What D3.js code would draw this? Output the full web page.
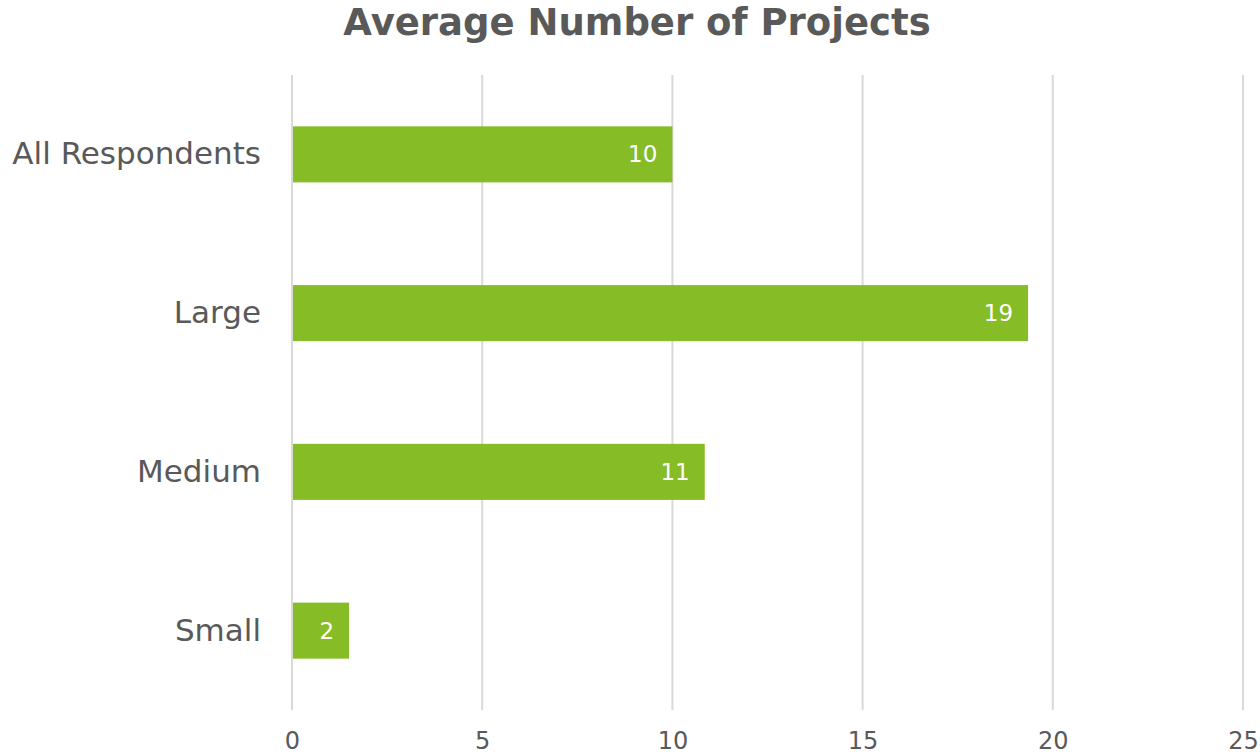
<!DOCTYPE html>
<html>
<head>
<meta charset="utf-8">
<script src="https://cdn.jsdelivr.net/npm/d3@7"></script>
<style>
  html, body { margin: 0; padding: 0; background: #ffffff; }
  svg { display: block; font-family: "DejaVu Sans", Verdana, sans-serif; }
</style>
</head>
<body>
<svg id="chart" width="1260" height="756"></svg>
<script>
// Company size segments and their average project counts
const categories = ["All Respondents", "Large", "Medium", "Small"];
const values = [10.0, 19.35, 10.85, 1.5];
const tickValues = [0, 5, 10, 15, 20, 25];
const title = "Average Number of Projects";

const width = 1260, height = 756;
const margin = { top: 75, right: 17, bottom: 46, left: 292 };

const svg = d3.select("#chart");

const x = d3.scaleLinear()
  .domain([0, 25])
  .range([margin.left, width - margin.right]);

const y = d3.scaleBand()
  .domain(categories)
  .range([margin.top, height - margin.bottom])
  .paddingInner(0.647)
  .paddingOuter(0.3235);

// Vertical gridlines
svg.append("g")
  .selectAll("line")
  .data(tickValues)
  .join("line")
  .attr("x1", d => x(d))
  .attr("x2", d => x(d))
  .attr("y1", margin.top)
  .attr("y2", height - margin.bottom)
  .attr("stroke", "#d9d9d9")
  .attr("stroke-width", 2);

// Bottom axis labels
const xAxis = d3.axisBottom(x).tickValues(tickValues).tickSize(0).tickPadding(0);
const gx = svg.append("g")
  .attr("transform", `translate(0,${height - 15})`)
  .call(xAxis);
gx.select(".domain").remove();
gx.selectAll("text")
  .attr("dy", "0.35em")
  .attr("y", 0)
  .attr("fill", "#595959")
  .style("font-size", "24px")
  .style("font-family", "\"DejaVu Sans\", Verdana, sans-serif");

// Category axis labels
const yAxis = d3.axisLeft(y).tickSize(0).tickPadding(31);
const gy = svg.append("g")
  .attr("transform", `translate(${margin.left},0)`)
  .call(yAxis);
gy.select(".domain").remove();
gy.selectAll("text")
  .attr("fill", "#595959")
  .style("font-size", "31px")
  .style("font-family", "\"DejaVu Sans\", Verdana, sans-serif");

// Bars
svg.append("g")
  .selectAll("rect")
  .data(categories)
  .join("rect")
  .attr("x", x(0) + 1)
  .attr("y", d => y(d))
  .attr("width", (d, i) => x(values[i]) - x(0) - 1)
  .attr("height", y.bandwidth())
  .attr("fill", "#86bc25");

// Value labels inside the bar ends
const fmt = d3.format(".0f");
svg.append("g")
  .selectAll("text")
  .data(categories)
  .join("text")
  .attr("x", (d, i) => x(values[i]) - 15)
  .attr("y", d => y(d) + y.bandwidth() / 2)
  .attr("dy", "0.35em")
  .attr("text-anchor", "end")
  .attr("fill", "#ffffff")
  .style("font-size", "23px")
  .text((d, i) => fmt(values[i]));

// Title
svg.append("text")
  .attr("x", 637)
  .attr("y", 35)
  .attr("text-anchor", "middle")
  .attr("fill", "#595959")
  .style("font-size", "37px")
  .style("font-weight", "bold")
  .text(title);
</script>
</body>
</html>
